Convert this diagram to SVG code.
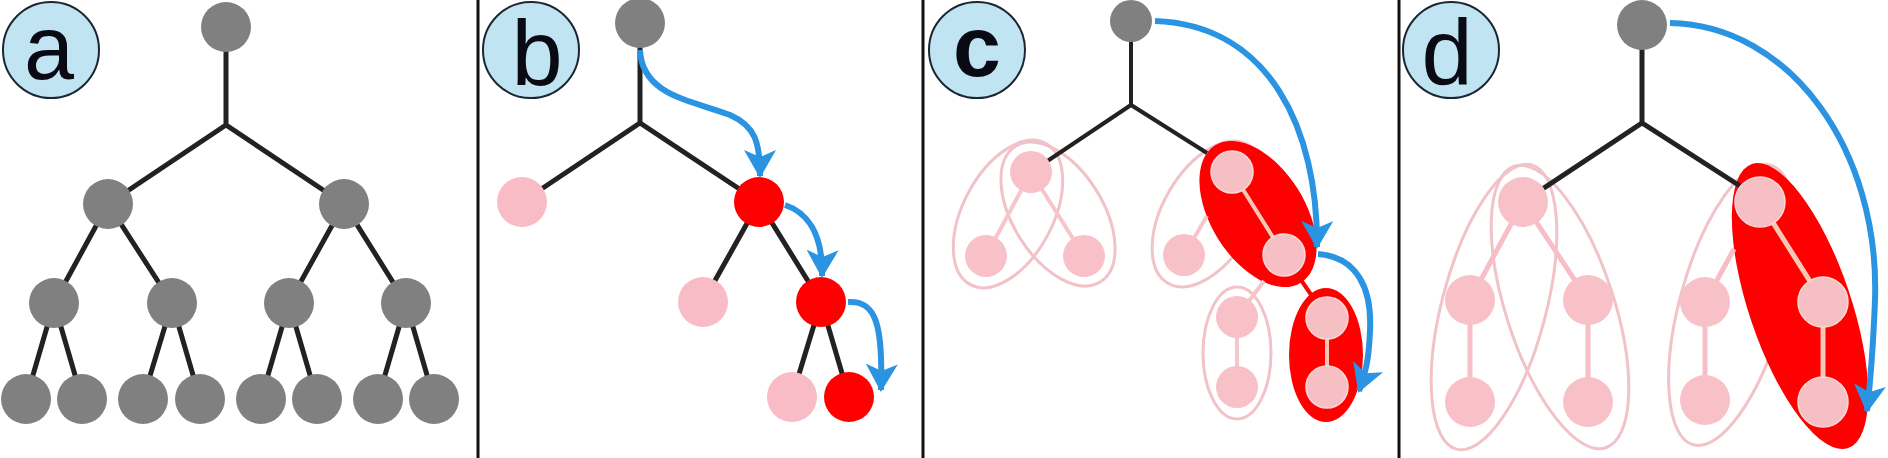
<svg xmlns="http://www.w3.org/2000/svg" width="1888" height="458" viewBox="0 0 1888 458">
<style>
.lbl circle{fill:#c1e4f3;stroke:#1b2633;stroke-width:2}
.lbl text{font-family:"Liberation Sans",Arial,sans-serif;font-size:92px;fill:#0a0a14;text-anchor:middle}
.gray{fill:#808080}
.red{fill:#ff0000}
.pink{fill:#f9bcc6}
.fpink{fill:#f8c1c8}
.inpink{fill:#f6bfc3;stroke:#f9d8d6;stroke-width:1.5}
.edge{stroke:#222;stroke-width:5;fill:none}
.edge4{stroke:#222;stroke-width:4;fill:none}
.pedge{stroke:#f6c6cc;stroke-width:4;fill:none}
.pedge5{stroke:#f8bec7;stroke-width:5;fill:none}
.iedge{stroke:#f5c8b6;stroke-width:4;fill:none}
.redge{stroke:#ff0000;stroke-width:4;fill:none}
.grp{fill:none;stroke:#f1c3c9;stroke-width:3}
.sel{fill:#ff0000}
.arrow{fill:none;stroke:#2a93e2;stroke-width:6;marker-end:url(#ah)}
.div{stroke:#111;stroke-width:3}
</style>
<defs>
<marker id="ah" viewBox="0 0 28 32" refX="26" refY="16" markerWidth="28" markerHeight="32" markerUnits="userSpaceOnUse" orient="auto">
<path d="M0,0 L28,16 L0,32 L7,16 Z" fill="#2a93e2"/>
</marker>
</defs>
<rect x="0" y="0" width="1888" height="458" fill="#fff"/>
<g id="dividers">
<line class="div" x1="478" y1="0" x2="478" y2="458"/>
<line class="div" x1="923" y1="0" x2="923" y2="458"/>
<line class="div" x1="1399" y1="0" x2="1399" y2="458"/>
</g>
<g id="label-a" class="lbl"><circle cx="51" cy="50" r="48"/><text x="49" y="79" style="font-size:90px">a</text></g>
<g id="label-b" class="lbl"><circle cx="531" cy="50" r="48"/><text x="537" y="85">b</text></g>
<g id="label-c" class="lbl"><circle cx="977" cy="50" r="48"/><text x="977" y="76" style="font-weight:bold;font-size:86px">c</text></g>
<g id="label-d" class="lbl"><circle cx="1451" cy="50" r="48"/><text x="1447" y="84">d</text></g>

<g id="clusters">
<ellipse class="grp" cx="1008" cy="214" rx="80" ry="45" transform="rotate(118 1008 214)"/>
<ellipse class="grp" cx="1058" cy="214" rx="80" ry="45" transform="rotate(58 1058 214)"/>
<ellipse class="grp" cx="1208" cy="214" rx="80" ry="45" transform="rotate(120 1208 214)"/>
<ellipse class="grp" cx="1237" cy="353" rx="34" ry="66"/>
<ellipse class="sel" cx="1258" cy="214" rx="81" ry="47" transform="rotate(58 1258 214)"/>
<ellipse class="sel" cx="1326" cy="355" rx="37" ry="67"/>
<ellipse class="grp" cx="1494" cy="307" rx="147" ry="52" transform="rotate(104.8 1494 307)"/>
<ellipse class="grp" cx="1560" cy="307" rx="148" ry="54" transform="rotate(72 1560 307)"/>
<ellipse class="grp" cx="1732" cy="305" rx="145" ry="52" transform="rotate(105.5 1732 305)"/>
<ellipse class="sel" cx="1800" cy="306" rx="150" ry="51" transform="rotate(71.3 1800 306)"/>
</g>

<g id="connectors">
<path class="edge" d="M226,27 V125 M108,204 L226,125 L344,204"/>
<path class="edge" d="M54,303 L108,204 L172,303 M289,303 L344,204 L406,303"/>
<path class="edge" d="M26,399 L54,303 L82,399 M143,399 L172,303 L200,399 M261,399 L289,303 L317,399 M378,399 L406,303 L434,399"/>
<path class="edge" d="M640,23 V123 M522,202 L640,123 L759,202"/>
<path class="edge" d="M703,302 L759,202 L821,302 M792,397 L821,302 L849,397"/>
<path class="edge4" d="M1131,21 V105 M1031,172 L1131,105 L1207,153"/>
<path class="pedge" d="M986,256 L1031,172 L1084,256"/>
<path class="pedge" d="M1207,216 L1184,255 M1264,281 L1237,317 V387"/>
<path class="iedge" d="M1232,172 L1284,255 M1327,318 V387"/>
<path class="redge" d="M1284,255 L1327,318"/>
<path class="edge" d="M1642,25 V123 M1523,202 L1642,123 L1740,186"/>
<path class="pedge5" d="M1470,402 V300 L1523,202 L1588,300 V402 M1734,249 L1705,302 V400"/>
<path class="iedge" d="M1760,202 L1823,302 V402" style="stroke-width:5"/>
</g>

<g id="nodes-a" class="gray">
<g id="a-root"><circle cx="226" cy="27" r="25"/></g>
<g id="a-l1"><circle cx="108" cy="204" r="25"/></g>
<g id="a-r1"><circle cx="344" cy="204" r="25"/></g>
<g id="a-l2a"><circle cx="54" cy="303" r="25"/></g>
<g id="a-l2b"><circle cx="172" cy="303" r="25"/></g>
<g id="a-r2a"><circle cx="289" cy="303" r="25"/></g>
<g id="a-r2b"><circle cx="406" cy="303" r="25"/></g>
<g id="a-l3a"><circle cx="26" cy="399" r="25"/></g>
<g id="a-l3b"><circle cx="82" cy="399" r="25"/></g>
<g id="a-l3c"><circle cx="143" cy="399" r="25"/></g>
<g id="a-l3d"><circle cx="200" cy="399" r="25"/></g>
<g id="a-r3a"><circle cx="261" cy="399" r="25"/></g>
<g id="a-r3b"><circle cx="317" cy="399" r="25"/></g>
<g id="a-r3c"><circle cx="378" cy="399" r="25"/></g>
<g id="a-r3d"><circle cx="434" cy="399" r="25"/></g>
</g>

<g id="nodes-b">
<g id="b-root"><circle class="gray" cx="640" cy="23" r="25"/></g>
<g id="b-l1"><circle class="pink" cx="522" cy="202" r="25"/></g>
<g id="b-r1"><circle class="red" cx="759" cy="202" r="25"/></g>
<g id="b-l2"><circle class="pink" cx="703" cy="302" r="25"/></g>
<g id="b-r2"><circle class="red" cx="821" cy="302" r="25"/></g>
<g id="b-l3"><circle class="pink" cx="792" cy="397" r="25"/></g>
<g id="b-r3"><circle class="red" cx="849" cy="397" r="25"/></g>
</g>

<g id="nodes-c">
<g id="c-root"><circle class="gray" cx="1131" cy="21" r="21"/></g>
<g id="c-l1"><circle class="fpink" cx="1031" cy="172" r="21"/></g>
<g id="c-l2a"><circle class="fpink" cx="986" cy="256" r="21"/></g>
<g id="c-l2b"><circle class="fpink" cx="1084" cy="256" r="21"/></g>
<g id="c-r1"><circle class="inpink" cx="1232" cy="172" r="21"/></g>
<g id="c-r2a"><circle class="fpink" cx="1184" cy="255" r="21"/></g>
<g id="c-r2b"><circle class="inpink" cx="1284" cy="255" r="21"/></g>
<g id="c-r3a"><circle class="fpink" cx="1237" cy="317" r="21"/></g>
<g id="c-r4a"><circle class="fpink" cx="1237" cy="387" r="21"/></g>
<g id="c-r3b"><circle class="inpink" cx="1327" cy="318" r="21"/></g>
<g id="c-r4b"><circle class="inpink" cx="1327" cy="387" r="21"/></g>
</g>

<g id="nodes-d">
<g id="d-root"><circle class="gray" cx="1642" cy="25" r="25"/></g>
<g id="d-l1"><circle class="fpink" cx="1523" cy="202" r="25"/></g>
<g id="d-l2a"><circle class="fpink" cx="1470" cy="300" r="25"/></g>
<g id="d-l3a"><circle class="fpink" cx="1470" cy="402" r="25"/></g>
<g id="d-l2b"><circle class="fpink" cx="1588" cy="300" r="25"/></g>
<g id="d-l3b"><circle class="fpink" cx="1588" cy="402" r="25"/></g>
<g id="d-r2a"><circle class="fpink" cx="1705" cy="302" r="25"/></g>
<g id="d-r3a"><circle class="fpink" cx="1705" cy="400" r="25"/></g>
<g id="d-r1"><circle class="inpink" cx="1760" cy="202" r="25"/></g>
<g id="d-r2b"><circle class="inpink" cx="1823" cy="302" r="25"/></g>
<g id="d-r3b"><circle class="inpink" cx="1823" cy="402" r="25"/></g>
</g>

<g id="arrows">
<path class="arrow" d="M640,50 C642,95 690,100 730,115 C755,126 760,142 760,176"/>
<path class="arrow" d="M785,205 C806,212 823,232 822,276"/>
<path class="arrow" d="M848,302 C876,300 883,325 881,390"/>
<path class="arrow" d="M1155,21 C1270,25 1318,130 1317,247"/>
<path class="arrow" d="M1318,254 C1358,257 1372,290 1370,330 C1369,360 1365,375 1359,391"/>
<path class="arrow" d="M1670,23 C1790,25 1880,150 1875,300 C1873,350 1870,385 1867,411"/>
</g>
</svg>
